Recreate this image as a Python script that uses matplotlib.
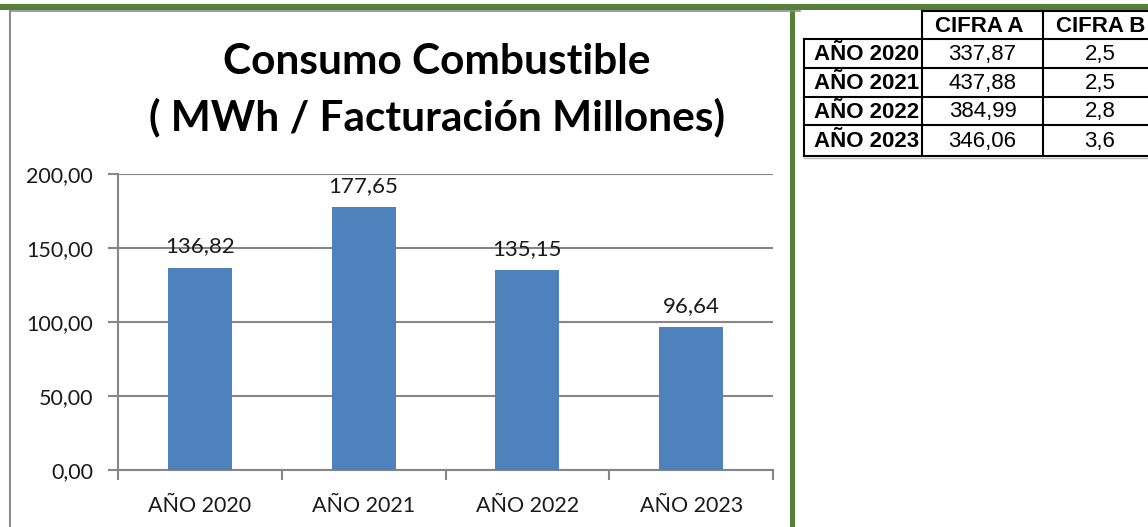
#!/usr/bin/env python
"""Consumo Combustible chart with side table."""

from matplotlib import pyplot as plt
from matplotlib.lines import Line2D
from matplotlib.patches import Rectangle
from matplotlib.ticker import FuncFormatter, MultipleLocator

# Data.
years   = ['AÑO 2020', 'AÑO 2021', 'AÑO 2022', 'AÑO 2023']
consumo = [136.82, 177.65, 135.15, 96.64]
cifra_a = ['337,87', '437,88', '384,99', '346,06']
cifra_b = ['2,5', '2,5', '2,8', '3,6']
headers = ['', 'CIFRA A', 'CIFRA B']

W, H = 1148, 527
fig = plt.figure(figsize=(W / 100, H / 100), dpi=100)
fig.patch.set_facecolor('white')

def px(x, y):
  # pixel (from top-left) -> figure fraction
  return x / W, 1 - y / H

# Frame: green band on top, green bar on the right of the chart, gray inner border.
green = '#538135'
fig.add_artist(Rectangle(px(0, 10), 1, 6 / H, transform=fig.transFigure,
                         color=green, lw=0))
fig.add_artist(Rectangle(px(790, 527), 5 / W, 523 / H, transform=fig.transFigure,
                         color=green, lw=0))
fig.add_artist(Line2D([9.5 / W, 9.5 / W], [0, 1 - 10.5 / H],
                      transform=fig.transFigure, color='#8c8c8c', lw=1.5))
fig.add_artist(Line2D([9.5 / W, 800 / W], [1 - 10.5 / H, 1 - 10.5 / H],
                      transform=fig.transFigure, color='#8c8c8c', lw=1.2))

# Chart.
left, right, top, bottom = 118, 773, 174, 470
ax = fig.add_axes([left / W, 1 - bottom / H, (right - left) / W, (bottom - top) / H])
xs = range(len(years))
ax.bar(xs, consumo, width=0.39, color='#4F81BD', zorder=3)
ax.set_xlim(-0.5, len(years) - 0.5)
ax.set_ylim(0, 200)
ax.yaxis.set_major_locator(MultipleLocator(50))
ax.yaxis.set_major_formatter(FuncFormatter(lambda v, p: f'{v:.2f}'.replace('.', ',')))
ax.grid(axis='y', color='#868686', lw=1.5, zorder=0)
for s in ['top', 'right']:
  ax.spines[s].set_visible(False)
for s in ['left', 'bottom']:
  ax.spines[s].set_color('#868686')
  ax.spines[s].set_linewidth(1.5)
ax.set_xticks(xs)
ax.set_xticklabels(years, fontname='Lato', fontsize=15.5, color='#1a1a1a')
ax.tick_params(axis='x', length=0, pad=19)
ax.set_xticks([i - 0.5 for i in range(len(years) + 1)], minor=True)
ax.tick_params(axis='x', which='minor', length=7, width=1.5, color='#868686')
ax.tick_params(axis='y', length=7, width=1.5, color='#868686', pad=11)
for lab in ax.get_yticklabels():
  lab.set_fontname('Lato')
  lab.set_fontsize(15.5)
  lab.set_color('#1a1a1a')
for i, v in enumerate(consumo):
  ax.annotate(f'{v:.2f}'.replace('.', ','), (i, v), xytext=(0, 8),
              textcoords='offset points', ha='center', va='bottom',
              fontname='Lato', fontsize=16, color='#1a1a1a')

fig.text(*px(437, 62), 'Consumo Combustible', ha='center', va='center',
         fontname='Lato', fontweight='bold', fontsize=30.5)
fig.text(*px(437, 117), '( MWh / Facturación Millones)', ha='center', va='center',
         fontname='Lato', fontweight='bold', fontsize=30.5)

# Table on the right.
col_x = [804, 922, 1043, 1165]
row_y = [11, 39, 68, 97, 125, 156]
tfont = dict(fontname='Liberation Sans', fontsize=16, color='black')
def hline(y, x0, x1):
  fig.add_artist(Line2D([x0 / W, x1 / W], [1 - y / H] * 2,
                        transform=fig.transFigure, color='black', lw=1.5))
def vline(x, y0, y1):
  fig.add_artist(Line2D([x / W] * 2, [1 - y0 / H, 1 - y1 / H],
                        transform=fig.transFigure, color='black', lw=1.5))
hline(row_y[0], col_x[1], col_x[3])
for y in row_y[1:]:
  hline(y, col_x[0], col_x[3])
vline(col_x[0], row_y[1], row_y[-1])
for x in col_x[1:]:
  vline(x, row_y[0], row_y[-1])
fig.add_artist(Line2D([col_x[0] / W, col_x[3] / W], [1 - (row_y[-1] + 2) / H] * 2,
                      transform=fig.transFigure, color='#bbbbbb', lw=1))

for j, h in enumerate(headers):
  if h:
    fig.text(*px((col_x[j] + col_x[j + 1]) / 2 - 3, (row_y[0] + row_y[1]) / 2 + 1), h,
             ha='center', va='center', fontweight='bold', **tfont)
for i in range(len(years)):
  yc = (row_y[i + 1] + row_y[i + 2]) / 2 + 1
  fig.text(*px(col_x[1] - 3, yc), years[i], ha='right', va='center',
           fontweight='bold', **tfont)
  fig.text(*px((col_x[1] + col_x[2]) / 2, yc), cifra_a[i], ha='center',
           va='center', **tfont)
  fig.text(*px((col_x[2] + col_x[3]) / 2 - 4, yc), cifra_b[i], ha='center',
           va='center', **tfont)

fig.savefig('out.png', dpi=100)
